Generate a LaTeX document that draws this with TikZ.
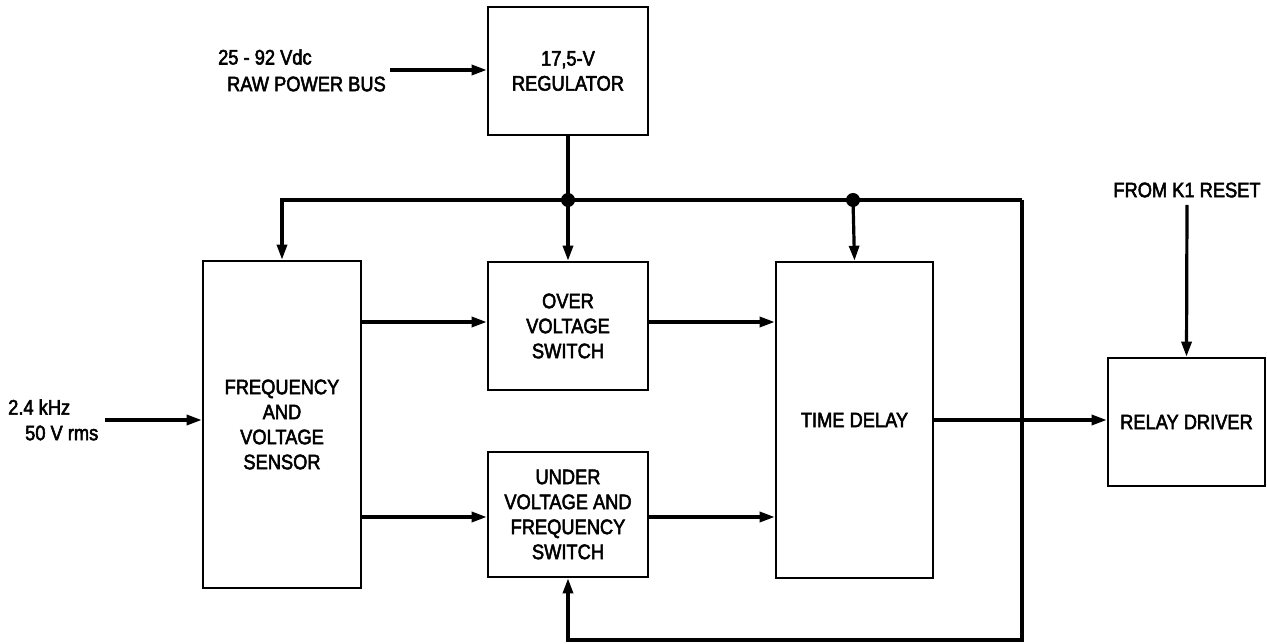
\documentclass[tikz,border=0pt]{standalone}
\usepackage{fontspec}
\setmainfont{Liberation Sans}[FakeStretch=0.87,FakeBold=2.5]
\usetikzlibrary{arrows.meta}
\begin{document}
\begin{tikzpicture}[x=1pt,y=-1pt,
  box/.style={draw, line width=2.6pt, inner sep=0pt, align=center, font=\fontsize{21}{25}\selectfont},
  lbl/.style={inner sep=0pt, font=\fontsize{21}{25}\selectfont},
  wire/.style={line width=3.2pt},
  arr/.style={wire, -{Triangle[length=15pt,width=10pt]}},
  dot/.style={circle, fill, inner sep=0pt, minimum size=14pt}]
\useasboundingbox (0,0) rectangle (1267,644);
% blocks
\node[box, minimum width=160pt, minimum height=128pt] (reg) at (568,71) {17,5-V\\REGULATOR};
\node[box, minimum width=158pt, minimum height=327pt] (sens) at (282,424.5) {FREQUENCY\\AND\\VOLTAGE\\SENSOR};
\node[box, minimum width=160pt, minimum height=128pt] (ov) at (568,326) {OVER\\VOLTAGE\\SWITCH};
\node[box, minimum width=160pt, minimum height=125pt] (uv) at (568,514.5) {UNDER\\VOLTAGE AND\\FREQUENCY\\SWITCH};
\node[box, minimum width=157pt, minimum height=316pt] (td) at (854.5,420) {TIME DELAY};
\node[box, minimum width=157pt, minimum height=128pt] (rd) at (1186.5,422) {RELAY DRIVER};
% labels
\node[lbl, anchor=west] (raw1) at (218,57) {25 - 92 Vdc};
\node[lbl, anchor=east] (raw2) at (386,84) {RAW POWER BUS};
\node[lbl, anchor=west] (ac1) at (8,407) {2.4 kHz};
\node[lbl, anchor=west] (ac2) at (25,433) {50 V rms};
\node[lbl] (k1txt) at (1187,190) {FROM K1 RESET};
% coordinates
\coordinate (rawin) at (390,70);
\coordinate (acin) at (105,420);
\coordinate (k1) at (1187,205);
\coordinate (j1) at (568,200);
\coordinate (j2) at (853,200);
\coordinate (bl) at (282,200);
\coordinate (br) at (1022,200);
\coordinate (bb) at (1022,640);
\coordinate (bu) at (568,640);
\coordinate (ya) at (0,322);
\coordinate (yb) at (0,517);
% connectors
\draw[arr] (rawin) -- (rawin -| reg.west);
\draw[arr] (acin) -- (acin -| sens.west);
\draw[arr] (k1) -- (rd.north);
\draw[wire] (reg.south) -- (j1);
\draw[arr] (j1) -- (ov.north);
\draw[arr] (j2) -- (td.north);
\draw[arr] (br) -- (bl) -- (sens.north);
\draw[arr] (br) -- (bb) -- (bu) -- (uv.south);
\draw[arr] (sens.east |- ya) -- (ov.west |- ya);
\draw[arr] (ov.east |- ya) -- (td.west |- ya);
\draw[arr] (sens.east |- yb) -- (uv.west |- yb);
\draw[arr] (uv.east |- yb) -- (td.west |- yb);
\draw[arr] (td.east) -- (rd.west |- td.east);
\node[dot] (d1) at (j1) {};
\node[dot] (d2) at (j2) {};
\end{tikzpicture}
\end{document}
